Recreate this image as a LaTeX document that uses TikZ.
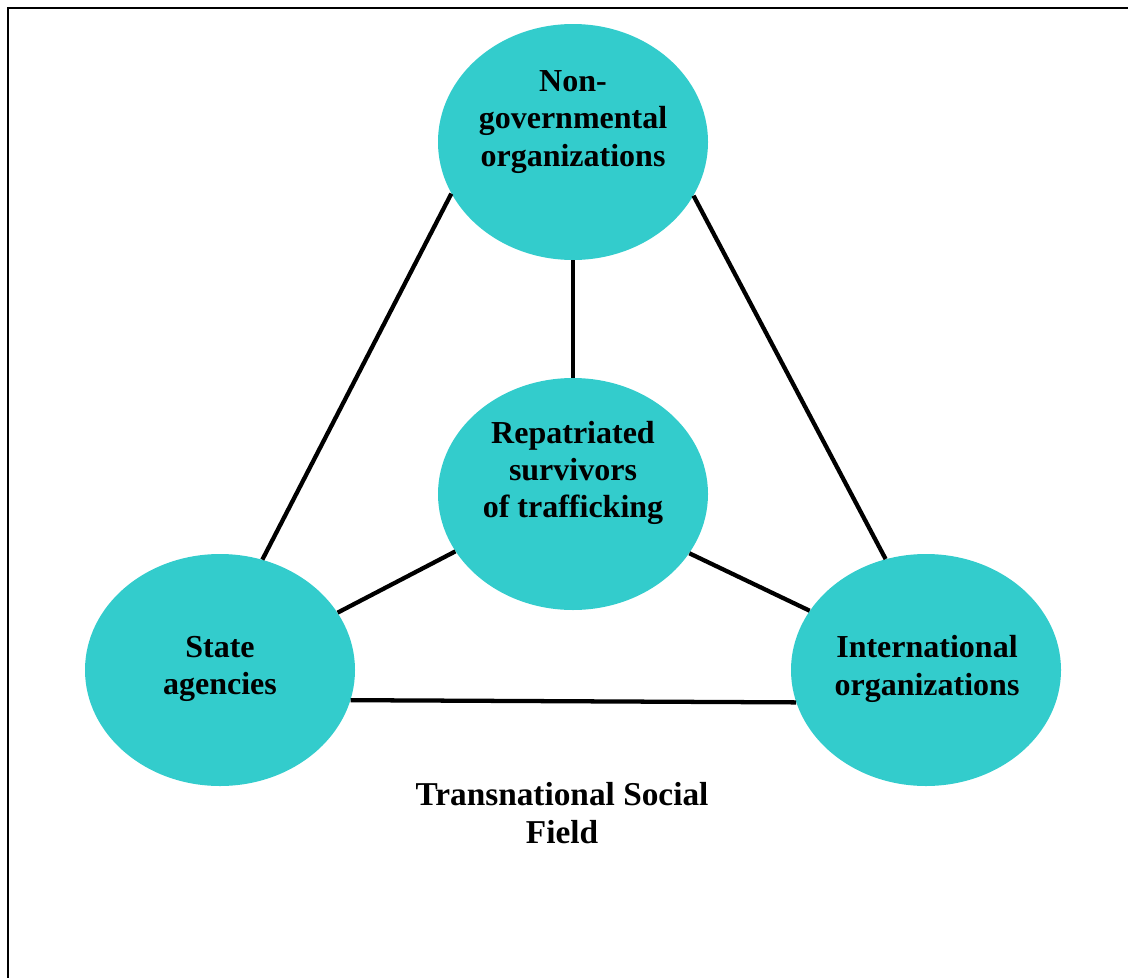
\documentclass[tikz,border=0pt]{standalone}
\usepackage{fontspec}
\setmainfont{Liberation Serif}
\usetikzlibrary{shapes.geometric}
\definecolor{turq}{HTML}{33CCCC}
\tikzset{
  blob/.style={ellipse, fill=turq, draw=none, minimum width=202.5pt, minimum height=174pt, inner sep=0pt},
  lbl/.style={align=center, font=\fontsize{24}{28}\selectfont\bfseries, inner sep=0pt},
  link/.style={line width=3.2pt, black},
  frame/.style={line width=2pt, black}
}
\begin{document}
\begin{tikzpicture}[x=0.75pt, y=-0.75pt]
\useasboundingbox (0,0) rectangle (1128,978);
\coordinate (fbl) at (8,990);
\coordinate (ftl) at (8,8);
\coordinate (ftr) at (1140,8);
\draw[frame] (fbl) -- (ftl) -- (ftr);

\node[blob, minimum height=177pt] (ngo) at (573,142) {};
\node[blob] (ctr) at (573,494) {};
\node[blob] (state) at (220,670) {};
\node[blob] (intl) at (926,670) {};

\node[lbl] (ngot) at (573,122) {Non-\\governmental\\organizations};
\node[lbl] (ctrt) at (573,473) {Repatriated\\survivors\\of trafficking};
\node[lbl] (statet) at (220,669) {State\\agencies};
\node[lbl] (intlt) at (927,669) {International\\organizations};
\node[lbl, font=\fontsize{25}{28}\selectfont\bfseries] (field) at (562,813) {Transnational Social\\Field};

\draw[link] (ngo.south) -- (ctr.north);
\draw[link] (ngo.203.6) -- (state.69.5);
\draw[link] (ngo.336.5) -- (intl.110.5);
\draw[link] (ctr.206.2) -- (state.26.6);
\draw[link] (ctr.333.6) -- (intl.153.4);
\draw[link] (state.-13.5) -- (intl.194);
\end{tikzpicture}
\end{document}
